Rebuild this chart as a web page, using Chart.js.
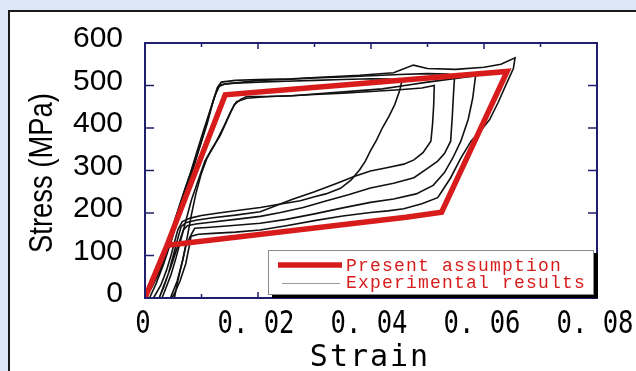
<!DOCTYPE html>
<html><head><meta charset="utf-8">
<script src="https://cdn.jsdelivr.net/npm/chart.js@4.4.0/dist/chart.umd.min.js"></script>
<style>html,body{margin:0;padding:0;background:#dce8f5;}canvas{display:block}</style>
</head><body><canvas id="c" width="636" height="371"></canvas>
<script>
// ---- ticks / labels ----
const xTickValues = [0, 0.02, 0.04, 0.06, 0.08];
const xTickLabels = ['0', '0. 02', '0. 04', '0. 06', '0. 08'];
const xMinorValues = [0.01, 0.03, 0.05, 0.07];
const yTickValues = [0, 100, 200, 300, 400, 500, 600];
const yTickLabels = ['0', '100', '200', '300', '400', '500', '600'];
const xTitle = 'Strain';
const yTitle = 'Stress (MPa)';
const seriesLabels = ['Present assumption', 'Experimental results'];

// ---- present assumption (red) ----
const modelStrain = [0, 0.0039, 0.0142, 0.0641, 0.0525, 0.0462, 0.0039, 0];
const modelStress = [0, 124, 478, 533, 202, 190, 124, 0];

// ---- experimental loops (black) ----
const loopAStrain = [0, 0.0012, 0.0027, 0.0036, 0.0044, 0.0053, 0.0062, 0.0071, 0.0080, 0.0092, 0.0105, 0.0116, 0.0125, 0.0133, 0.0150, 0.0200, 0.0250, 0.0300, 0.0350, 0.0400, 0.0430, 0.0455, 0.0450, 0.0442, 0.0432, 0.0420, 0.0410, 0.0399, 0.0390, 0.0380, 0.0365, 0.0346, 0.0320, 0.0300, 0.0275, 0.0240, 0.0204, 0.0170, 0.0130, 0.0100, 0.0080, 0.0066, 0.0058, 0.0052, 0.0046, 0.0038, 0.0028, 0.0015];
const loopAStress = [0, 25, 65, 100, 143, 185, 222, 258, 292, 345, 400, 445, 480, 502, 505, 508, 510, 512, 514, 516, 515, 512, 485, 455, 428, 400, 372, 346, 322, 302, 278, 258, 245, 238, 229, 221, 213, 207, 200, 194, 188, 180, 160, 130, 100, 65, 30, 0];

const loopBStrain = [0.0025, 0.0035, 0.0045, 0.0055, 0.0068, 0.0082, 0.0095, 0.0106, 0.0118, 0.0133, 0.0146, 0.0158, 0.0170, 0.0180, 0.0220, 0.0260, 0.0300, 0.0350, 0.0400, 0.0450, 0.0490, 0.0512, 0.0511, 0.0509, 0.0506, 0.0492, 0.0476, 0.0458, 0.0430, 0.0399, 0.0370, 0.0340, 0.0300, 0.0260, 0.0204, 0.0160, 0.0120, 0.0090, 0.0072, 0.0064, 0.0058, 0.0050, 0.0042, 0.0033, 0.0025];
const loopBStress = [0, 35, 70, 110, 160, 230, 280, 322, 350, 382, 420, 455, 468, 474, 474, 476, 479, 482, 486, 490, 494, 500, 455, 410, 369, 342, 325, 315, 307, 299, 286, 270, 250, 232, 203, 195, 189, 183, 177, 168, 140, 100, 60, 25, 0];

const loopCStrain = [0.0008, 0.0020, 0.0033, 0.0048, 0.0062, 0.0075, 0.0088, 0.0100, 0.0112, 0.0122, 0.0130, 0.0140, 0.0200, 0.0250, 0.0300, 0.0350, 0.0400, 0.0450, 0.0500, 0.0535, 0.0548, 0.0546, 0.0544, 0.0541, 0.0530, 0.0518, 0.0500, 0.0476, 0.0440, 0.0399, 0.0360, 0.0320, 0.0280, 0.0240, 0.0204, 0.0160, 0.0120, 0.0090, 0.0075, 0.0068, 0.0062, 0.0055, 0.0046, 0.0036, 0.0030];
const loopCStress = [0, 35, 80, 140, 205, 260, 315, 370, 425, 470, 497, 503, 512, 514, 518, 520, 523, 526, 528, 527, 522, 480, 430, 369, 340, 322, 305, 283, 270, 259, 243, 228, 213, 201, 192, 185, 179, 174, 170, 160, 130, 95, 55, 20, 0];

const loopDStrain = [0.0045, 0.0057, 0.0067, 0.0075, 0.0082, 0.0090, 0.0099, 0.0110, 0.0125, 0.0140, 0.0152, 0.0162, 0.0180, 0.0220, 0.0260, 0.0300, 0.0340, 0.0380, 0.0420, 0.0460, 0.0500, 0.0540, 0.0580, 0.0585, 0.0580, 0.0572, 0.0559, 0.0545, 0.0530, 0.0510, 0.0480, 0.0440, 0.0399, 0.0350, 0.0300, 0.0250, 0.0204, 0.0150, 0.0110, 0.0088, 0.0082, 0.0078, 0.0072, 0.0062, 0.0052, 0.0048];
const loopDStress = [0, 40, 90, 145, 195, 245, 290, 330, 365, 405, 440, 462, 470, 474, 476, 480, 484, 488, 492, 500, 508, 515, 522, 522, 470, 420, 369, 330, 295, 265, 245, 233, 225, 212, 198, 185, 176, 170, 166, 164, 150, 120, 80, 40, 10, 0];

const loopEStrain = [0, 0.0015, 0.0025, 0.0035, 0.0045, 0.0056, 0.0066, 0.0076, 0.0086, 0.0098, 0.0110, 0.0120, 0.0128, 0.0135, 0.0160, 0.0200, 0.0260, 0.0320, 0.0380, 0.0440, 0.0475, 0.0500, 0.0550, 0.0600, 0.0630, 0.0655, 0.0652, 0.0640, 0.0625, 0.0610, 0.0595, 0.0577, 0.0559, 0.0541, 0.0525, 0.0518, 0.0490, 0.0458, 0.0430, 0.0399, 0.0350, 0.0300, 0.0250, 0.0204, 0.0160, 0.0120, 0.0095, 0.0080, 0.0072, 0.0065, 0.0058, 0.0052];
const loopEStress = [0, 35, 62, 100, 145, 195, 235, 275, 315, 360, 410, 460, 495, 508, 512, 514, 516, 520, 524, 530, 548, 540, 538, 543, 550, 565, 540, 505, 460, 420, 395, 369, 329, 283, 250, 236, 222, 210, 205, 201, 193, 182, 170, 160, 155, 152, 150, 145, 120, 80, 40, 0];

const loops = [[loopAStrain, loopAStress], [loopBStrain, loopBStress], [loopCStrain, loopCStress], [loopDStrain, loopDStress], [loopEStrain, loopEStress]];

function pts(xs, ys) { const n = Math.min(xs.length, ys.length); const out = []; for (let i = 0; i < n; i++) out.push({x: xs[i], y: ys[i]}); return out; }

const RED = '#d81c1c';
const NAVY = '#1f1f6e';

const datasets = [];
loops.forEach((l, i) => datasets.push({
  label: i === 0 ? seriesLabels[1] : '',
  data: pts(l[0], l[1]), showLine: true, borderColor: '#111', borderWidth: 1.6,
  pointRadius: 0, fill: false, tension: 0, order: 2
}));
datasets.push({
  label: seriesLabels[0], data: pts(modelStrain, modelStress), showLine: true,
  borderColor: RED, borderWidth: 5.5, pointRadius: 0, fill: false, tension: 0, order: 1
});

const bgPlugin = {
  id: 'bg',
  beforeDraw(chart) {
    const ctx = chart.ctx;
    ctx.save();
    ctx.fillStyle = '#dce8f5'; ctx.fillRect(0, 0, 636, 371);
    ctx.fillStyle = '#ffffff'; ctx.fillRect(9, 11, 640, 370);
    ctx.strokeStyle = '#1a1a1a'; ctx.lineWidth = 2;
    ctx.beginPath(); ctx.moveTo(9, 372); ctx.lineTo(9, 11); ctx.lineTo(640, 11); ctx.stroke();
    ctx.restore();
  }
};

const framePlugin = {
  id: 'frame',
  afterDatasetsDraw(chart) {
    const {ctx, chartArea: a, scales: {x, y}} = chart;
    ctx.save();
    ctx.strokeStyle = NAVY; ctx.lineWidth = 1.5;
    ctx.beginPath();
    yTickValues.slice(1, -1).forEach(v => { const p = y.getPixelForValue(v);
      ctx.moveTo(a.left, p); ctx.lineTo(a.left + 9, p); ctx.moveTo(a.right, p); ctx.lineTo(a.right - 9, p); });
    xTickValues.slice(1, -1).forEach(v => { const p = x.getPixelForValue(v);
      ctx.moveTo(p, a.top); ctx.lineTo(p, a.top + 6); ctx.moveTo(p, a.bottom); ctx.lineTo(p, a.bottom - 6); });
    xMinorValues.forEach(v => { const p = x.getPixelForValue(v);
      ctx.moveTo(p, a.top); ctx.lineTo(p, a.top + 4); ctx.moveTo(p, a.bottom); ctx.lineTo(p, a.bottom - 4); });
    ctx.stroke();
    ctx.lineWidth = 2;
    ctx.strokeRect(a.left, a.top, a.right - a.left, a.bottom - a.top);
    ctx.restore();
  },
  afterDraw(chart) {
    const {ctx, chartArea: a, scales: {x}} = chart;
    ctx.save();
    const hasLS = ('letterSpacing' in ctx);
    // x tick labels (narrow, tall glyphs)
    ctx.fillStyle = '#000';
    ctx.font = '32px "DejaVu Sans Mono", monospace';
    ctx.textAlign = 'center'; ctx.textBaseline = 'alphabetic';
    xTickValues.forEach((v, i) => {
      ctx.save();
      ctx.translate(x.getPixelForValue(v) - 2, 333);
      ctx.scale(0.8, 1);
      ctx.fillText(xTickLabels[i], 0, 0);
      ctx.restore();
    });
    // x title
    ctx.font = '30px "DejaVu Sans Mono", monospace';
    if (hasLS) ctx.letterSpacing = '2px';
    ctx.fillText(xTitle, 370, 366);
    if (hasLS) ctx.letterSpacing = '0px';
    // y title
    ctx.save();
    ctx.translate(52, 173); ctx.rotate(-Math.PI / 2);
    ctx.font = '33px "Liberation Sans", Arial, sans-serif';
    ctx.fillText(yTitle, 0, 0, 160);
    ctx.restore();
    // legend
    const L = 268, T = 250, R = 594, B = 295;
    ctx.fillStyle = '#000'; ctx.fillRect(L + 4, T + 3, R - L, B - T);
    ctx.fillStyle = '#fff'; ctx.fillRect(L, T, R - L, B - T);
    ctx.strokeStyle = '#8a8a8a'; ctx.lineWidth = 1; ctx.strokeRect(L + 0.5, T + 0.5, R - L - 1, B - T - 1);
    ctx.strokeStyle = RED; ctx.lineWidth = 5.5; ctx.lineCap = 'butt';
    ctx.beginPath(); ctx.moveTo(278, 265); ctx.lineTo(342, 265); ctx.stroke();
    ctx.strokeStyle = '#9a9a9a'; ctx.lineWidth = 1;
    ctx.beginPath(); ctx.moveTo(282, 283.5); ctx.lineTo(340, 283.5); ctx.stroke();
    ctx.fillStyle = RED; ctx.textAlign = 'left';
    ctx.font = '18px "Liberation Mono", monospace';
    if (hasLS) ctx.letterSpacing = '1.2px';
    ctx.fillText(seriesLabels[0], 346, 271);
    ctx.fillText(seriesLabels[1], 346, 288);
    ctx.restore();
  }
};

new Chart(document.getElementById('c'), {
  type: 'scatter',
  data: { datasets },
  options: {
    responsive: false, animation: false, devicePixelRatio: 1,
    layout: { padding: { left: 0, right: 39, top: 43, bottom: 0 } },
    plugins: { legend: { display: false }, tooltip: { enabled: false } },
    scales: {
      x: {
        type: 'linear', min: 0, max: 0.08,
        grid: { display: false, drawTicks: false },
        border: { display: false },
        ticks: { stepSize: 0.02, display: false },
        afterFit: s => { s.height = 73; s.paddingLeft = 0; s.paddingRight = 0; }
      },
      y: {
        type: 'linear', min: 0, max: 600,
        grid: { display: false, drawTicks: false },
        border: { display: false },
        ticks: { stepSize: 100, padding: 22, color: '#000', labelOffset: -4,
          font: { family: '"Liberation Sans", Arial, sans-serif', size: 30 },
          callback: (v, i) => yTickLabels[i] },
        afterFit: s => { s.width = 145; s.paddingTop = 0; s.paddingBottom = 0; }
      }
    }
  },
  plugins: [bgPlugin, framePlugin]
});
</script>
</body></html>
